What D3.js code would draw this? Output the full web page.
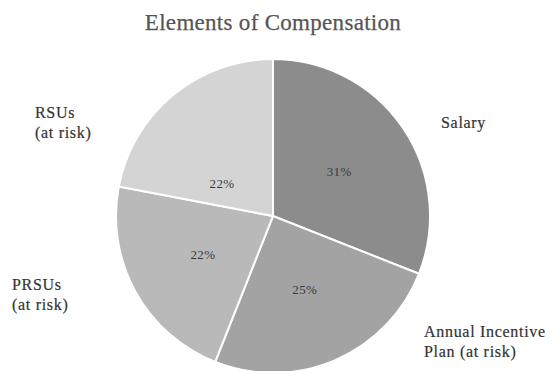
<!DOCTYPE html>
<html>
<head>
<meta charset="utf-8">
<script src="https://cdn.jsdelivr.net/npm/d3@7"></script>
<style>
  html, body { margin: 0; padding: 0; background: #fff; }
  svg { display: block; }
</style>
</head>
<body>
<svg id="chart" width="556" height="371"></svg>
<script>
// ---- data ----
const title = "Elements of Compensation";
const categories = ["Salary", "Annual Incentive Plan (at risk)", "PRSUs (at risk)", "RSUs (at risk)"];
const values = [31, 25, 22, 22];
const categoryLabelLines = [["Salary"], ["Annual Incentive", "Plan (at risk)"], ["PRSUs", "(at risk)"], ["RSUs", "(at risk)"]];
const colors = ["#8c8c8c", "#a3a3a3", "#b9b9b9", "#d4d4d4"];

// ---- layout ----
const W = 556, H = 371;
const cx = 273, cy = 216, R = 157;
const font = "'Liberation Serif', 'Times New Roman', serif";
// outside label anchors (left x, first baseline y)
const outsidePos = [[441, 128], [424, 337], [12, 290], [35, 118]];

const svg = d3.select("#chart");

svg.append("text")
  .attr("x", cx).attr("y", 30)
  .attr("text-anchor", "middle")
  .attr("font-family", font)
  .attr("font-size", 23)
  .attr("letter-spacing", 0.3)
  .attr("fill", "#555555")
  .attr("stroke", "#555555")
  .attr("stroke-width", 0.25)
  .text(title);

const pie = d3.pie().sort(null).value(d => d.value);
const arcs = pie(categories.map((c, i) => ({ name: c, value: values[i], color: colors[i] })));
const arc = d3.arc().innerRadius(0).outerRadius(R);
const labelArc = d3.arc().innerRadius(80).outerRadius(80);

const g = svg.append("g").attr("transform", `translate(${cx},${cy})`);

g.selectAll("path.slice")
  .data(arcs)
  .join("path")
  .attr("class", "slice")
  .attr("d", arc)
  .attr("fill", d => d.data.color)
  .attr("stroke", "#ffffff")
  .attr("stroke-width", 2)
  .attr("stroke-linejoin", "round");

g.selectAll("text.pct")
  .data(arcs)
  .join("text")
  .attr("class", "pct")
  .attr("transform", (d, i) => {
    let [x, y] = labelArc.centroid(d);
    if (i === 3) { y += 29; }
    return `translate(${x},${y})`;
  })
  .attr("text-anchor", "middle")
  .attr("dy", "0.35em")
  .attr("font-family", font)
  .attr("font-size", 13)
  .attr("letter-spacing", 0.4)
  .attr("fill", "#3a3a3a")
  .text(d => Math.round(d.data.value / d3.sum(values) * 100) + "%");

categoryLabelLines.forEach((lines, i) => {
  const t = svg.append("text")
    .attr("x", outsidePos[i][0]).attr("y", outsidePos[i][1])
    .attr("font-family", font)
    .attr("font-size", 16)
    .attr("letter-spacing", 0.7)
    .attr("fill", "#333333")
    .attr("stroke", "#333333")
    .attr("stroke-width", 0.2);
  lines.forEach((ln, j) => {
    t.append("tspan")
      .attr("x", outsidePos[i][0])
      .attr("dy", j === 0 ? 0 : 20)
      .text(ln);
  });
});
</script>
</body>
</html>
